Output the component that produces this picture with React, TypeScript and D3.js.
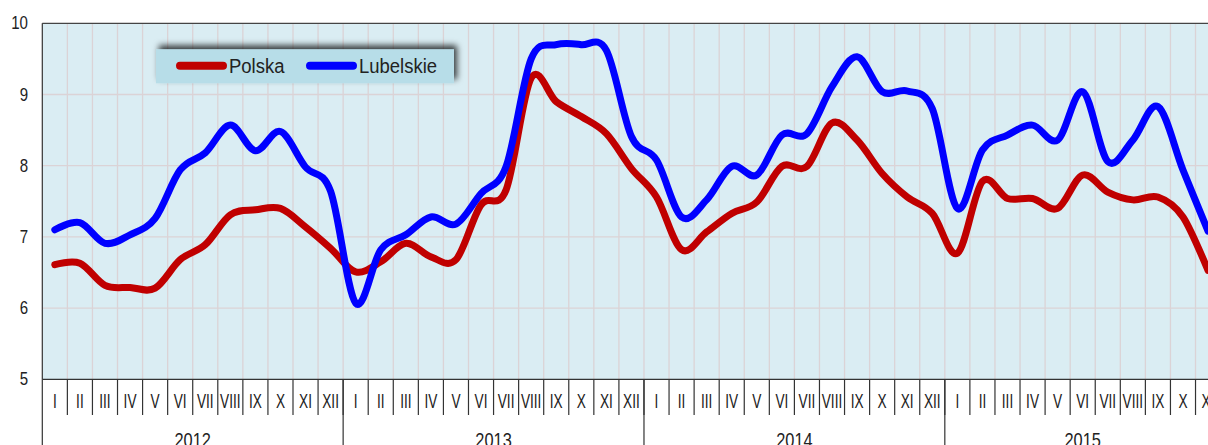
import React from "react";
import * as d3 from "d3";

// monthly values, I 2012 .. XI 2015
const monthNames = ["I", "II", "III", "IV", "V", "VI", "VII", "VIII", "IX", "X", "XI", "XII"];
const years = [2012, 2013, 2014, 2015];
const monthsPerYear = [12, 12, 12, 11];
const yTicks = [5, 6, 7, 8, 9, 10];

const polska = [
  6.61, 6.63, 6.32, 6.29, 6.28, 6.68, 6.89, 7.31, 7.38, 7.4, 7.14, 6.84,
  6.51, 6.65, 6.91, 6.72, 6.68, 7.45, 7.66, 9.23, 8.9, 8.69, 8.45, 7.96,
  7.56, 6.82, 7.07, 7.33, 7.49, 7.99, 7.99, 8.6, 8.36, 7.89, 7.56, 7.33,
  6.77, 7.78, 7.54, 7.54, 7.4, 7.87, 7.63, 7.52, 7.56, 7.28, 6.53,
];

const lubelskie = [
  7.1, 7.2, 6.91, 7.03, 7.26, 7.94, 8.18, 8.57, 8.21, 8.48, 7.98, 7.64,
  6.07, 6.82, 7.03, 7.28, 7.18, 7.61, 7.99, 9.5, 9.7, 9.7, 9.62, 8.41,
  8.08, 7.28, 7.52, 7.99, 7.87, 8.43, 8.45, 9.11, 9.53, 9.04, 9.05, 8.8,
  7.4, 8.22, 8.43, 8.57, 8.36, 9.04, 8.06, 8.36, 8.83, 7.94, 7.08,
];

const series = [
  { name: "Polska", color: "#c00000", values: polska },
  { name: "Lubelskie", color: "#0000ff", values: lubelskie },
];

const width = 1208;
const height = 445;
const marginLeft = 42.3;
const marginTop = 23.3;
const plotBottom = 379.3;
const monthW = 25.07;

const App = () => {
  // build month keys
  const months: { key: string; label: string; year: number }[] = [];
  years.forEach((yr, yi) => {
    for (let m = 0; m < monthsPerYear[yi]; m++) {
      months.push({ key: `${yr}-${m}`, label: monthNames[m], year: yr });
    }
  });

  const x = d3
    .scaleBand()
    .domain(months.map((d) => d.key))
    .range([marginLeft, marginLeft + months.length * monthW])
    .padding(0);

  const y = d3.scaleLinear().domain([5, 10]).range([plotBottom, marginTop]);

  const plotRight = marginLeft + months.length * monthW;
  const xc = (i: number) => (x(months[i].key) as number) + x.bandwidth() / 2;

  const line = d3
    .line<number>()
    .x((d, i) => xc(i))
    .y((d) => y(d))
    .curve(d3.curveCardinal);

  // year start positions
  let idx = 0;
  const yearSpans = years.map((yr, yi) => {
    const start = x(months[idx].key) as number;
    idx += monthsPerYear[yi];
    return { year: yr, start, end: start + monthsPerYear[yi] * monthW };
  });

  const font = "'Liberation Sans', Arial, sans-serif";

  return (
    <svg
      width={width}
      height={height}
      style={{ position: "absolute", left: 0, top: 0, background: "#fff" }}
    >
      <defs>
        <filter id="legShadow" x="-10%" y="-40%" width="120%" height="180%">
          <feDropShadow dx="3" dy="-4" stdDeviation="3" floodColor="#000" floodOpacity="0.75" />
        </filter>
      </defs>

      {/* plot background */}
      <rect
        x={marginLeft}
        y={marginTop}
        width={plotRight - marginLeft}
        height={plotBottom - marginTop}
        fill="#daedf3"
      />

      {/* vertical grid */}
      {months.map((m, i) =>
        i === 0 ? null : (
          <line
            key={"vg" + i}
            x1={x(m.key)}
            x2={x(m.key)}
            y1={marginTop}
            y2={plotBottom}
            stroke="#dbd3d6"
            strokeWidth={1.3}
          />
        )
      )}
      {/* horizontal grid */}
      {yTicks.slice(1, -1).map((t) => (
        <line
          key={"hg" + t}
          x1={marginLeft}
          x2={plotRight}
          y1={y(t)}
          y2={y(t)}
          stroke="#dbd3d6"
          strokeWidth={1.3}
        />
      ))}

      {/* frame */}
      <line x1={marginLeft} x2={plotRight} y1={marginTop} y2={marginTop} stroke="#444" strokeWidth={1.2} />
      <line x1={marginLeft} x2={marginLeft} y1={marginTop} y2={plotBottom} stroke="#333" strokeWidth={1.2} />
      <line x1={marginLeft} x2={plotRight} y1={plotBottom} y2={plotBottom} stroke="#333" strokeWidth={1.2} />

      {/* y labels */}
      {yTicks.map((t) => (
        <text
          key={"yl" + t}
          transform={`translate(28,${y(t) + 6}) scale(0.86,1)`}
          textAnchor="end"
          fontFamily={font}
          fontSize={17.5}
          fill="#222"
        >
          {t}
        </text>
      ))}

      {/* month ticks and labels */}
      {months.map((m, i) => (
        <g key={"m" + i}>
          <line
            x1={(x(m.key) as number) + monthW}
            x2={(x(m.key) as number) + monthW}
            y1={plotBottom}
            y2={415}
            stroke="#333"
            strokeWidth={1.2}
          />
          <text
            transform={`translate(${xc(i)},408) scale(0.7,1)`}
            textAnchor="middle"
            fontFamily={font}
            fontSize={19.5}
            fill="#222"
          >
            {m.label}
          </text>
        </g>
      ))}

      {/* year separators and labels */}
      {yearSpans.map((ys) => (
        <g key={"y" + ys.year}>
          <line x1={ys.start} x2={ys.start} y1={plotBottom} y2={height} stroke="#333" strokeWidth={1.2} />
          <text
            transform={`translate(${(ys.start + ys.end) / 2},447) scale(0.82,1)`}
            textAnchor="middle"
            fontFamily={font}
            fontSize={20}
            fill="#222"
          >
            {ys.year}
          </text>
        </g>
      ))}

      {/* legend */}
      <rect x={156} y={49.3} width={298} height={34} fill="#b7dde8" filter="url(#legShadow)" />
      {series.map((s, i) => {
        const lx = i === 0 ? 176 : 306;
        return (
          <g key={"lg" + s.name}>
            <line
              x1={lx + 4}
              x2={lx + 47}
              y1={65.7}
              y2={65.7}
              stroke={s.color}
              strokeWidth={8}
              strokeLinecap="round"
            />
            <text
              transform={`translate(${lx + 53},73.3) scale(0.88,1)`}
              fontFamily={font}
              fontSize={21}
              fill="#222"
            >
              {s.name}
            </text>
          </g>
        );
      })}

      {/* series lines */}
      {series.map((s) => (
        <path
          key={s.name}
          d={line(s.values) as string}
          fill="none"
          stroke={s.color}
          strokeWidth={7}
          strokeLinejoin="round"
          strokeLinecap="round"
        />
      ))}
    </svg>
  );
};

export default App;
